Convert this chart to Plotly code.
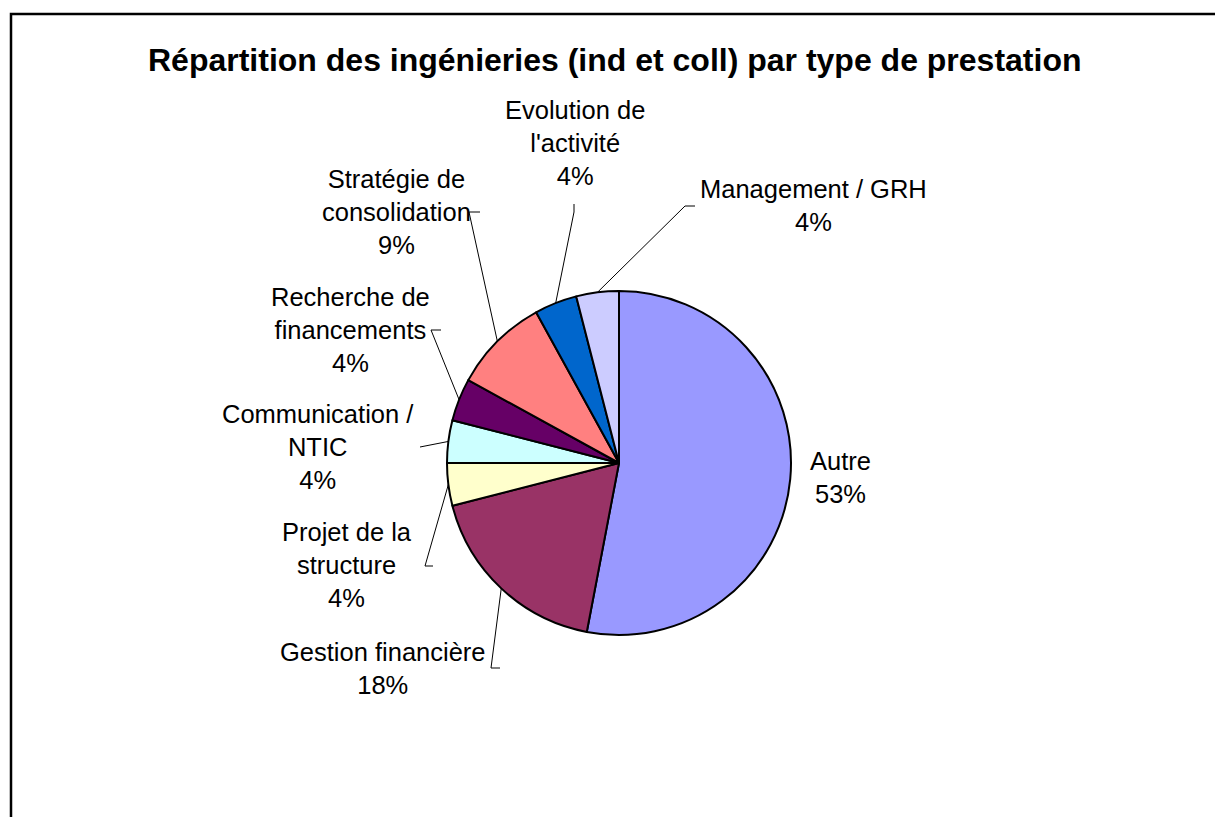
import math
import plotly.graph_objects as go

W, H = 1215, 817

categories = ["Autre", "Gestion financière", "Projet de la structure", "Communication / NTIC",
              "Recherche de financements", "Stratégie de consolidation",
              "Evolution de l'activité", "Management / GRH"]
values = [53, 18, 4, 4, 4, 9, 4, 4]
label_texts = ["Autre<br>53%", "Gestion financière<br>18%", "Projet de la<br>structure<br>4%",
               "Communication /<br>NTIC<br>4%", "Recherche de<br>financements<br>4%",
               "Stratégie de<br>consolidation<br>9%", "Evolution de<br>l'activité<br>4%",
               "Management / GRH<br>4%"]
colors = ["#9999FF", "#993366", "#FFFFCC", "#CCFFFF", "#660066", "#FF8080", "#0066CC", "#CCCCFF"]

# layout (pixels)
cx, cy, R = 619, 463, 172
label_pos = [(840, 477), (383, 668), (347, 565), (318, 447), (350, 330), (396, 212), (575, 143), (813, 205)]
leader_start = [None, (500, 668), (433, 566), (420, 447), (441, 330), (480, 212), (574, 204), (695, 206)]
leader_tick = [None, (491, 668), (425, 566), None, (431, 330), (469, 212), (574, 212), (685, 206)]

def px(x):
    return x / W

def py(y):
    return 1 - y / H

fig = go.Figure(go.Pie(
    labels=categories, values=values, sort=False, direction="clockwise", rotation=0,
    marker=dict(colors=colors, line=dict(color="black", width=2)),
    textinfo="none", hoverinfo="label+percent", showlegend=False,
    domain=dict(x=[px(cx - R), px(cx + R)], y=[py(cy + R), py(cy - R)]),
))

font = dict(family="Liberation Sans, Arial, sans-serif", size=25.5, color="black")
anns = []
for t, (lx, ly) in zip(label_texts, label_pos):
    anns.append(dict(x=px(lx), y=py(ly), xref="paper", yref="paper", text=t, showarrow=False,
                     xanchor="center", yanchor="middle", align="center", font=font))

anns.append(dict(x=px(615), y=py(60), xref="paper", yref="paper",
                 text="<b>Répartition des ingénieries (ind et coll) par type de prestation</b>",
                 showarrow=False, xanchor="center", yanchor="middle",
                 font=dict(family="Liberation Sans, Arial, sans-serif", size=32, color="black")))

shapes = []
# leader lines to slice mid-angles
total = sum(values)
cum = 0
for i, v in enumerate(values):
    mid = (cum + v / 2) / total * 2 * math.pi
    cum += v
    if leader_start[i] is None:
        continue
    ex = cx + R * math.sin(mid)
    ey = cy - R * math.cos(mid)
    pts = [leader_start[i]]
    if leader_tick[i] is not None:
        pts.append(leader_tick[i])
    pts.append((ex, ey))
    path = "M " + " L ".join(f"{px(a)},{py(b)}" for a, b in pts)
    shapes.append(dict(type="path", xref="paper", yref="paper", path=path,
                       line=dict(color="black", width=1)))

# outer border
shapes.append(dict(type="rect", xref="paper", yref="paper", x0=px(11), x1=1.02, y0=-0.02, y1=py(14),
                   line=dict(color="black", width=2.5)))

fig.update_layout(width=W, height=H, margin=dict(l=0, r=0, t=0, b=0),
                  paper_bgcolor="white", plot_bgcolor="white",
                  annotations=anns, shapes=shapes)

fig.write_html("out.html", config={"displayModeBar": False},
               post_script="document.body.style.margin='0';document.body.style.overflow='hidden';")
